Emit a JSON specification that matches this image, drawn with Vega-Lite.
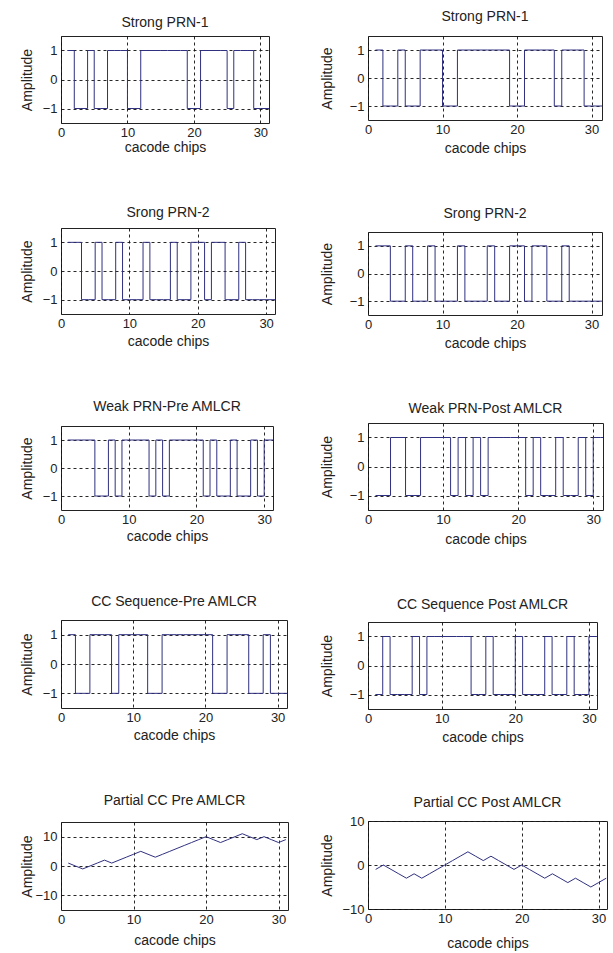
{
  "$schema": "https://vega.github.io/schema/vega-lite/v6.json",
  "padding": {"top": 9, "left": 19, "right": 0, "bottom": 0},
  "background": "white",
  "datasets": {
    "prn1": [{"x":1,"y":1},{"x":2,"y":-1},{"x":3,"y":-1},{"x":4,"y":1},{"x":5,"y":-1},{"x":6,"y":-1},{"x":7,"y":1},{"x":8,"y":1},{"x":9,"y":1},{"x":10,"y":-1},{"x":11,"y":-1},{"x":12,"y":1},{"x":13,"y":1},{"x":14,"y":1},{"x":15,"y":1},{"x":16,"y":1},{"x":17,"y":1},{"x":18,"y":1},{"x":19,"y":-1},{"x":20,"y":-1},{"x":21,"y":1},{"x":22,"y":1},{"x":23,"y":1},{"x":24,"y":1},{"x":25,"y":-1},{"x":26,"y":1},{"x":27,"y":1},{"x":28,"y":1},{"x":29,"y":-1},{"x":30,"y":-1},{"x":31,"y":-1},{"x":32,"y":-1}],
    "prn2": [{"x":1,"y":1},{"x":2,"y":1},{"x":3,"y":-1},{"x":4,"y":-1},{"x":5,"y":1},{"x":6,"y":-1},{"x":7,"y":-1},{"x":8,"y":1},{"x":9,"y":-1},{"x":10,"y":-1},{"x":11,"y":-1},{"x":12,"y":1},{"x":13,"y":-1},{"x":14,"y":-1},{"x":15,"y":-1},{"x":16,"y":1},{"x":17,"y":-1},{"x":18,"y":-1},{"x":19,"y":1},{"x":20,"y":1},{"x":21,"y":-1},{"x":22,"y":1},{"x":23,"y":1},{"x":24,"y":-1},{"x":25,"y":-1},{"x":26,"y":1},{"x":27,"y":-1},{"x":28,"y":-1},{"x":29,"y":-1},{"x":30,"y":-1},{"x":31,"y":-1},{"x":32,"y":-1}],
    "weakpre": [{"x":1,"y":1},{"x":2,"y":1},{"x":3,"y":1},{"x":4,"y":1},{"x":5,"y":-1},{"x":6,"y":-1},{"x":7,"y":1},{"x":8,"y":-1},{"x":9,"y":1},{"x":10,"y":1},{"x":11,"y":1},{"x":12,"y":1},{"x":13,"y":-1},{"x":14,"y":1},{"x":15,"y":-1},{"x":16,"y":1},{"x":17,"y":1},{"x":18,"y":1},{"x":19,"y":1},{"x":20,"y":1},{"x":21,"y":-1},{"x":22,"y":1},{"x":23,"y":-1},{"x":24,"y":-1},{"x":25,"y":1},{"x":26,"y":-1},{"x":27,"y":-1},{"x":28,"y":1},{"x":29,"y":-1},{"x":30,"y":1},{"x":31,"y":1},{"x":32,"y":1}],
    "weakpost": [{"x":1,"y":-1},{"x":2,"y":-1},{"x":3,"y":1},{"x":4,"y":1},{"x":5,"y":-1},{"x":6,"y":-1},{"x":7,"y":1},{"x":8,"y":1},{"x":9,"y":1},{"x":10,"y":1},{"x":11,"y":-1},{"x":12,"y":1},{"x":13,"y":-1},{"x":14,"y":1},{"x":15,"y":-1},{"x":16,"y":1},{"x":17,"y":1},{"x":18,"y":1},{"x":19,"y":1},{"x":20,"y":1},{"x":21,"y":-1},{"x":22,"y":1},{"x":23,"y":-1},{"x":24,"y":-1},{"x":25,"y":1},{"x":26,"y":-1},{"x":27,"y":-1},{"x":28,"y":1},{"x":29,"y":-1},{"x":30,"y":1},{"x":31,"y":1},{"x":32,"y":1}],
    "ccpre": [{"x":1,"y":1},{"x":2,"y":-1},{"x":3,"y":-1},{"x":4,"y":1},{"x":5,"y":1},{"x":6,"y":1},{"x":7,"y":-1},{"x":8,"y":1},{"x":9,"y":1},{"x":10,"y":1},{"x":11,"y":1},{"x":12,"y":-1},{"x":13,"y":-1},{"x":14,"y":1},{"x":15,"y":1},{"x":16,"y":1},{"x":17,"y":1},{"x":18,"y":1},{"x":19,"y":1},{"x":20,"y":1},{"x":21,"y":-1},{"x":22,"y":-1},{"x":23,"y":1},{"x":24,"y":1},{"x":25,"y":1},{"x":26,"y":-1},{"x":27,"y":-1},{"x":28,"y":1},{"x":29,"y":-1},{"x":30,"y":-1},{"x":31,"y":-1},{"x":32,"y":-1}],
    "ccpost": [{"x":1,"y":-1},{"x":2,"y":1},{"x":3,"y":-1},{"x":4,"y":-1},{"x":5,"y":-1},{"x":6,"y":1},{"x":7,"y":-1},{"x":8,"y":1},{"x":9,"y":1},{"x":10,"y":1},{"x":11,"y":1},{"x":12,"y":1},{"x":13,"y":1},{"x":14,"y":-1},{"x":15,"y":-1},{"x":16,"y":1},{"x":17,"y":-1},{"x":18,"y":-1},{"x":19,"y":-1},{"x":20,"y":1},{"x":21,"y":-1},{"x":22,"y":-1},{"x":23,"y":-1},{"x":24,"y":1},{"x":25,"y":-1},{"x":26,"y":-1},{"x":27,"y":1},{"x":28,"y":-1},{"x":29,"y":-1},{"x":30,"y":1},{"x":31,"y":1},{"x":32,"y":1}],
    "partpre": [{"x":1,"y":1},{"x":2,"y":0},{"x":3,"y":-1},{"x":4,"y":0},{"x":5,"y":1},{"x":6,"y":2},{"x":7,"y":1},{"x":8,"y":2},{"x":9,"y":3},{"x":10,"y":4},{"x":11,"y":5},{"x":12,"y":4},{"x":13,"y":3},{"x":14,"y":4},{"x":15,"y":5},{"x":16,"y":6},{"x":17,"y":7},{"x":18,"y":8},{"x":19,"y":9},{"x":20,"y":10},{"x":21,"y":9},{"x":22,"y":8},{"x":23,"y":9},{"x":24,"y":10},{"x":25,"y":11},{"x":26,"y":10},{"x":27,"y":9},{"x":28,"y":10},{"x":29,"y":9},{"x":30,"y":8},{"x":31,"y":9}],
    "partpost": [{"x":1,"y":-1},{"x":2,"y":0},{"x":3,"y":-1},{"x":4,"y":-2},{"x":5,"y":-3},{"x":6,"y":-2},{"x":7,"y":-3},{"x":8,"y":-2},{"x":9,"y":-1},{"x":10,"y":0},{"x":11,"y":1},{"x":12,"y":2},{"x":13,"y":3},{"x":14,"y":2},{"x":15,"y":1},{"x":16,"y":2},{"x":17,"y":1},{"x":18,"y":0},{"x":19,"y":-1},{"x":20,"y":0},{"x":21,"y":-1},{"x":22,"y":-2},{"x":23,"y":-3},{"x":24,"y":-2},{"x":25,"y":-3},{"x":26,"y":-4},{"x":27,"y":-3},{"x":28,"y":-4},{"x":29,"y":-5},{"x":30,"y":-4},{"x":31,"y":-3}]
  },
  "hconcat": [
    {
      "spacing": 50,
      "vconcat": [
        {"width": 208, "height": 87, "title": {"text": "Strong PRN-1", "offset": 6}, "data": {"name": "prn1"},
         "mark": {"type": "line", "interpolate": "step-after", "color": "#303080", "strokeWidth": 1, "clip": true},
         "encoding": {
           "x": {"field": "x", "type": "quantitative", "scale": {"domain": [0, 31.3], "nice": false, "zero": false}, "axis": {"values": [0, 10, 20, 30], "title": "cacode chips", "titlePadding": 1}},
           "y": {"field": "y", "type": "quantitative", "scale": {"domain": [-1.5, 1.5], "nice": false}, "axis": {"values": [-1, 0, 1], "title": "Amplitude", "minExtent": 16, "maxExtent": 16, "titlePadding": 11}}}},
        {"width": 214, "height": 86, "title": {"text": "Srong PRN-2", "offset": 8}, "data": {"name": "prn2"},
         "mark": {"type": "line", "interpolate": "step-after", "color": "#303080", "strokeWidth": 1, "clip": true},
         "encoding": {
           "x": {"field": "x", "type": "quantitative", "scale": {"domain": [0, 31.3], "nice": false, "zero": false}, "axis": {"values": [0, 10, 20, 30], "title": "cacode chips", "titlePadding": 4}},
           "y": {"field": "y", "type": "quantitative", "scale": {"domain": [-1.5, 1.5], "nice": false}, "axis": {"values": [-1, 0, 1], "title": "Amplitude", "minExtent": 16, "maxExtent": 16, "titlePadding": 11}}}},
        {"width": 212, "height": 84, "title": {"text": "Weak PRN-Pre AMLCR", "offset": 12}, "data": {"name": "weakpre"},
         "mark": {"type": "line", "interpolate": "step-after", "color": "#303080", "strokeWidth": 1, "clip": true},
         "encoding": {
           "x": {"field": "x", "type": "quantitative", "scale": {"domain": [0, 31.3], "nice": false, "zero": false}, "axis": {"values": [0, 10, 20, 30], "title": "cacode chips", "titlePadding": 3}},
           "y": {"field": "y", "type": "quantitative", "scale": {"domain": [-1.5, 1.5], "nice": false}, "axis": {"values": [-1, 0, 1], "title": "Amplitude", "minExtent": 16, "maxExtent": 16, "titlePadding": 11}}}},
        {"width": 226, "height": 88, "title": {"text": "CC Sequence-Pre AMLCR", "offset": 11}, "data": {"name": "ccpre"},
         "mark": {"type": "line", "interpolate": "step-after", "color": "#303080", "strokeWidth": 1, "clip": true},
         "encoding": {
           "x": {"field": "x", "type": "quantitative", "scale": {"domain": [0, 31.3], "nice": false, "zero": false}, "axis": {"values": [0, 10, 20, 30], "title": "cacode chips", "titlePadding": 4}},
           "y": {"field": "y", "type": "quantitative", "scale": {"domain": [-1.5, 1.5], "nice": false}, "axis": {"values": [-1, 0, 1], "title": "Amplitude", "minExtent": 16, "maxExtent": 16, "titlePadding": 11}}}},
        {"width": 227, "height": 88, "title": {"text": "Partial CC Pre AMLCR", "offset": 14}, "data": {"name": "partpre"},
         "mark": {"type": "line", "color": "#303080", "strokeWidth": 1, "clip": true},
         "encoding": {
           "x": {"field": "x", "type": "quantitative", "scale": {"domain": [0, 31.3], "nice": false, "zero": false}, "axis": {"values": [0, 10, 20, 30], "title": "cacode chips", "titlePadding": 7}},
           "y": {"field": "y", "type": "quantitative", "scale": {"domain": [-15, 15], "nice": false}, "axis": {"values": [-10, 0, 10], "title": "Amplitude", "minExtent": 23, "maxExtent": 23, "titlePadding": 4}}}}
      ]
    },
    {
      "spacing": 50,
      "vconcat": [
        {"width": 234, "height": 84, "title": {"text": "Strong PRN-1", "offset": 12}, "data": {"name": "prn1"},
         "mark": {"type": "line", "interpolate": "step-after", "color": "#303080", "strokeWidth": 1, "clip": true},
         "encoding": {
           "x": {"field": "x", "type": "quantitative", "scale": {"domain": [0, 31.4], "nice": false, "zero": false}, "axis": {"values": [0, 10, 20, 30], "title": "cacode chips", "titlePadding": 5}},
           "y": {"field": "y", "type": "quantitative", "scale": {"domain": [-1.5, 1.5], "nice": false}, "axis": {"values": [-1, 0, 1], "title": "Amplitude", "minExtent": 16, "maxExtent": 16, "titlePadding": 18}}}},
        {"width": 234, "height": 83, "title": {"text": "Srong PRN-2", "offset": 11}, "data": {"name": "prn2"},
         "mark": {"type": "line", "interpolate": "step-after", "color": "#303080", "strokeWidth": 1, "clip": true},
         "encoding": {
           "x": {"field": "x", "type": "quantitative", "scale": {"domain": [0, 31.4], "nice": false, "zero": false}, "axis": {"values": [0, 10, 20, 30], "title": "cacode chips", "titlePadding": 5}},
           "y": {"field": "y", "type": "quantitative", "scale": {"domain": [-1.5, 1.5], "nice": false}, "axis": {"values": [-1, 0, 1], "title": "Amplitude", "minExtent": 16, "maxExtent": 16, "titlePadding": 18}}}},
        {"width": 235, "height": 87, "title": {"text": "Weak PRN-Post AMLCR", "offset": 7}, "data": {"name": "weakpost"},
         "mark": {"type": "line", "interpolate": "step-after", "color": "#303080", "strokeWidth": 1, "clip": true},
         "encoding": {
           "x": {"field": "x", "type": "quantitative", "scale": {"domain": [0, 31.3], "nice": false, "zero": false}, "axis": {"values": [0, 10, 20, 30], "title": "cacode chips", "titlePadding": 6}},
           "y": {"field": "y", "type": "quantitative", "scale": {"domain": [-1.5, 1.5], "nice": false}, "axis": {"values": [-1, 0, 1], "title": "Amplitude", "minExtent": 16, "maxExtent": 16, "titlePadding": 18}}}},
        {"width": 229, "height": 87, "title": {"text": "CC Sequence Post AMLCR", "offset": 10}, "data": {"name": "ccpost"},
         "mark": {"type": "line", "interpolate": "step-after", "color": "#303080", "strokeWidth": 1, "clip": true},
         "encoding": {
           "x": {"field": "x", "type": "quantitative", "scale": {"domain": [0, 31.1], "nice": false, "zero": false}, "axis": {"values": [0, 10, 20, 30], "title": "cacode chips", "titlePadding": 5}},
           "y": {"field": "y", "type": "quantitative", "scale": {"domain": [-1.5, 1.5], "nice": false}, "axis": {"values": [-1, 0, 1], "title": "Amplitude", "minExtent": 16, "maxExtent": 16, "titlePadding": 18}}}},
        {"width": 239, "height": 88, "title": {"text": "Partial CC Post AMLCR", "offset": 5}, "data": {"name": "partpost"},
         "mark": {"type": "line", "color": "#303080", "strokeWidth": 1, "clip": true},
         "encoding": {
           "x": {"field": "x", "type": "quantitative", "scale": {"domain": [0, 31.1], "nice": false, "zero": false}, "axis": {"values": [0, 10, 20, 30], "title": "cacode chips", "titlePadding": 11}},
           "y": {"field": "y", "type": "quantitative", "scale": {"domain": [-10, 10], "nice": false}, "axis": {"values": [-10, 0, 10], "title": "Amplitude", "minExtent": 23, "maxExtent": 23, "titlePadding": 11}}}}
      ]
    }
  ],
  "spacing": 30,
  "config": {
    "font": "Liberation Sans",
    "view": {"stroke": "#222", "strokeWidth": 1},
    "axis": {"domain": false, "ticks": false, "grid": true, "gridColor": "#111", "gridDash": [3, 3], "gridWidth": 1, "gridOpacity": 0.9,
             "labelFont": "Liberation Sans", "labelFontSize": 13, "labelColor": "#222",
             "titleFont": "Liberation Sans", "titleFontSize": 14, "titleFontWeight": "normal", "titleColor": "#222"},
    "axisX": {"labelPadding": 3, "labelFlush": false, "labelBound": false},
    "axisY": {"labelPadding": 4},
    "title": {"font": "Liberation Sans", "fontSize": 14, "fontWeight": "normal", "color": "#222", "anchor": "middle", "frame": "group"}
  }
}
